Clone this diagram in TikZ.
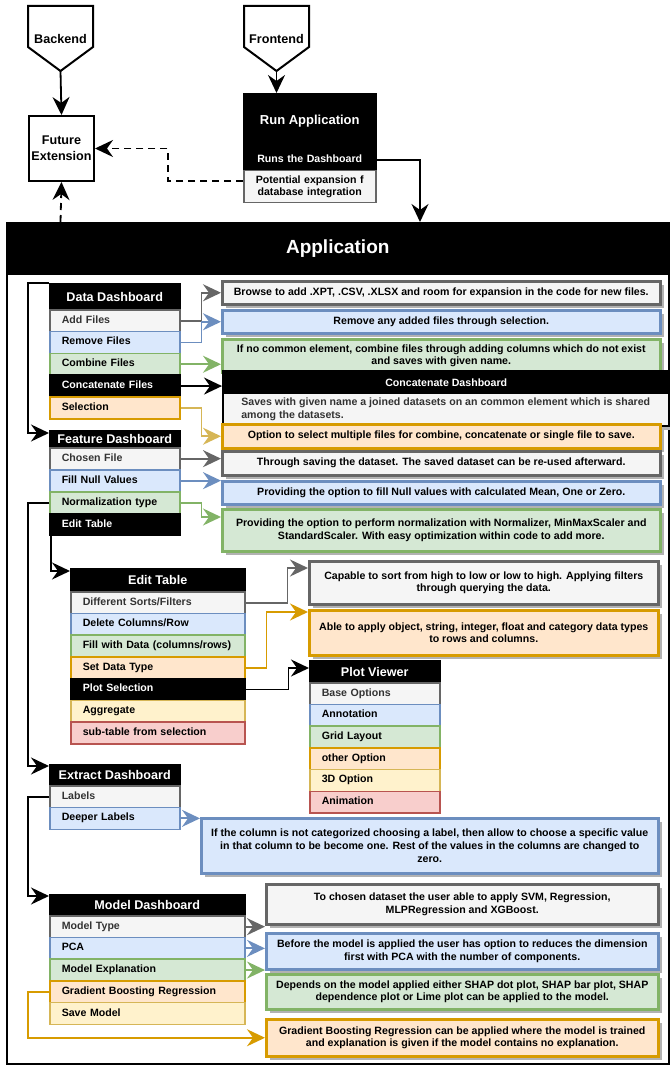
\documentclass[tikz,border=0pt]{standalone}
\usepackage{fontspec}
\setmainfont{Liberation Sans}
\usetikzlibrary{calc}
\usetikzlibrary{arrows.meta}
\usetikzlibrary{shadows}

\definecolor{grayF}{HTML}{F5F5F5}\definecolor{grayD}{HTML}{666666}
\definecolor{blueF}{HTML}{DAE8FC}\definecolor{blueD}{HTML}{6C8EBF}
\definecolor{greenF}{HTML}{D5E8D4}\definecolor{greenD}{HTML}{82B366}
\definecolor{orangeF}{HTML}{FFE6CC}\definecolor{orangeD}{HTML}{D79B00}
\definecolor{yellowF}{HTML}{FFF2CC}\definecolor{yellowD}{HTML}{D6B656}
\definecolor{redF}{HTML}{F8CECC}\definecolor{redD}{HTML}{B85450}
\definecolor{txtgray}{HTML}{333333}

\newcommand\rowfont{\fontsize{10.6}{12.7}\selectfont\bfseries}
\newcommand\headfont{\fontsize{12.6}{14.5}\selectfont\bfseries}

\tikzset{
  cgray/.style={fill=grayF, draw=grayD, text=txtgray},
  cblue/.style={fill=blueF, draw=blueD},
  cgreen/.style={fill=greenF, draw=greenD},
  corange/.style={fill=orangeF, draw=orangeD},
  cyellow/.style={fill=yellowF, draw=yellowD},
  cred/.style={fill=redF, draw=redD},
  cblack/.style={fill=black, draw=black, text=white},
  panelhead/.style={anchor=north west, fill=black, draw=black, text=white, font=\headfont, inner sep=0pt, line width=1.5pt},
  panelrow/.style={anchor=north west, minimum height=21.8, inner xsep=12pt, inner ysep=0pt, text width=#1, align=left, font=\rowfont, line width=1.5pt},
  descbox/.style={anchor=north west, align=center, inner sep=0pt, font=\rowfont, text=black, line width=2.5pt, drop shadow={shadow xshift=4pt, shadow yshift=-4pt, fill=black!30, opacity=1}},
  conn/.style={line width=1.8pt, -{Stealth[length=18pt, width=17pt, inset=6pt]}},
}

\begin{document}
\begin{tikzpicture}[x=1pt, y=-1pt]
\useasboundingbox (0,0) rectangle (669,1067);

% off-page shapes
\draw[line width=2pt, line join=miter] (28,6) -- (93,6) -- (93,47) -- (60.5,71) -- (28,47) -- cycle;
\node[font=\headfont] (backend) at (60.5,39) {Backend};
\coordinate (backendTip) at (60.5,71);
\draw[line width=2pt, line join=miter] (244,6) -- (309,6) -- (309,47) -- (276.5,71) -- (244,47) -- cycle;
\node[font=\headfont] (frontend) at (276.5,39) {Frontend};
\coordinate (frontendTip) at (276.5,71);

\node[draw, line width=2pt, anchor=north west, minimum width=65, minimum height=65, align=center, font=\fontsize{12.6}{16}\selectfont\bfseries, inner sep=0pt] (future) at (28,115) {Future\\Extension};

\node[panelhead, minimum width=132, minimum height=55, font=\fontsize{13}{15}\selectfont\bfseries] (runH) at (243,93) {Run Application};
\node[panelrow=108, cblack, align=center, minimum height=22] (runRow1) at (243,148) {\strut Runs the Dashboard};
\node[panelrow=108, cgray, align=center, minimum height=32, text=black] (runRow2) at (243,170) {Potential expansion f\\database integration};

\node[draw, line width=2pt, anchor=north west, minimum width=662, minimum height=841, inner sep=0pt] (app) at (6,222) {};
\node[panelhead, minimum width=662, minimum height=51, font=\fontsize{19}{22}\selectfont\bfseries] (appH) at (6,222) {Application};

% data dashboard
\node[panelhead, minimum width=130, minimum height=26] (ddH) at (49,283) {Data Dashboard};
\foreach \txt/\sty [count=\i] in {Add Files/cgray, Remove Files/cblue, Combine Files/cgreen, Concatenate Files/cblack, Selection/corange}
  \node[panelrow=106, \sty] (dd\i) at (49,{287.2+21.8*\i}) {\strut\txt};

\node[cgray, descbox, minimum width=438, minimum height=23] (dBrowse) at (221,280) {Browse to add .XPT, .CSV, .XLSX and room for expansion in the code for new files.};
\node[cblue, descbox, minimum width=438, minimum height=23] (dRemove) at (221,309) {Remove any added files through selection.};
\node[cgreen, descbox, minimum width=438, minimum height=33] (dCombine) at (221,338) {If no common element, combine files through adding columns which do not exist\\and saves with given name.};
\node[cblack, descbox, text=white, minimum width=446, minimum height=22] (dConcatH) at (222,370) {Concatenate Dashboard};
\node[cgray, descbox, draw=black, line width=1.5pt, text=txtgray, align=left, minimum width=446, minimum height=33] (dConcatB) at (222,392) {Saves with given name a joined datasets on an common element which is shared\\among the datasets.};
\node[corange, descbox, minimum width=438, minimum height=24] (dSelect) at (221,423) {Option to select multiple files for combine, concatenate or single file to save.};

% feature dashboard
\node[panelhead, minimum width=130, minimum height=16] (fdH) at (49,430) {Feature Dashboard};
\foreach \txt/\sty [count=\i] in {Chosen File/cgray, Fill Null Values/cblue, Normalization type/cgreen, Edit Table/cblack}
  \node[panelrow=106, \sty] (fd\i) at (49,{425+22*\i}) {\strut\txt};

\node[cgray, descbox, minimum width=438, minimum height=24] (dSave) at (221,450) {Through saving the dataset. The saved dataset can be re-used afterward.};
\node[cblue, descbox, minimum width=438, minimum height=23] (dFill) at (221,480) {Providing the option to fill Null values with calculated Mean, One or Zero.};
\node[cgreen, descbox, minimum width=438, minimum height=42] (dNorm) at (221,508) {Providing the option to perform normalization with Normalizer, MinMaxScaler and\\StandardScaler. With easy optimization within code to add more.};

% edit table
\node[panelhead, minimum width=174, minimum height=23] (etH) at (70,568) {Edit Table};
\foreach \txt/\sty [count=\i] in {{Different Sorts/Filters}/cgray, {Delete Columns/Row}/cblue, {Fill with Data (columns/rows)}/cgreen, Set Data Type/corange, Plot Selection/cblack, Aggregate/cyellow, sub-table from selection/cred}
  \node[panelrow=150, \sty] (et\i) at (70,{569.3+21.7*\i}) {\strut\txt};

\node[cgray, descbox, minimum width=349, minimum height=43] (dSort) at (308,560) {Capable to sort from high to low or low to high. Applying filters\\through querying the data.};
\node[corange, descbox, minimum width=349, minimum height=45] (dType) at (308,609) {Able to apply object, string, integer, float and category data types\\to rows and columns.};

% plot viewer
\node[panelhead, minimum width=130, minimum height=22] (pvH) at (309,660) {Plot Viewer};
\foreach \txt/\sty [count=\i] in {Base Options/cgray, Annotation/cblue, Grid Layout/cgreen, other Option/corange, 3D Option/cyellow, Animation/cred}
  \node[panelrow=106, \sty] (pv\i) at (309,{660.3+21.7*\i}) {\strut\txt};

% extract dashboard
\node[panelhead, minimum width=130, minimum height=21] (exH) at (49,764) {Extract Dashboard};
\foreach \txt/\sty [count=\i] in {Labels/cgray, Deeper Labels/cblue}
  \node[panelrow=106, \sty] (ex\i) at (49,{763.3+21.7*\i}) {\strut\txt};

\node[cblue, descbox, minimum width=457, minimum height=55] (dDeep) at (200,817) {If the column is not categorized choosing a label, then allow to choose a specific value\\in that column to be become one. Rest of the values in the columns are changed to\\zero.};

% model dashboard
\node[panelhead, minimum width=195, minimum height=21] (mdH) at (49,894) {Model Dashboard};
\foreach \txt/\sty [count=\i] in {Model Type/cgray, PCA/cblue, Model Explanation/cgreen, Gradient Boosting Regression/corange, Save Model/cyellow}
  \node[panelrow=171, \sty] (md\i) at (49,{893.3+21.7*\i}) {\strut\txt};

\node[cgray, descbox, minimum width=392, minimum height=40] (dChosen) at (265,883) {To chosen dataset the user able to apply SVM, Regression,\\MLPRegression and XGBoost.};
\node[cblue, descbox, minimum width=392, minimum height=36] (dPCA) at (265,932) {Before the model is applied the user has option to reduces the dimension\\first with PCA with the number of components.};
\node[cgreen, descbox, minimum width=392, minimum height=35] (dDepends) at (265,973) {Depends on the model applied either SHAP dot plot, SHAP bar plot, SHAP\\dependence plot or Lime plot can be applied to the model.};
\node[corange, descbox, minimum width=392, minimum height=37] (dGBR) at (265,1018) {Gradient Boosting Regression can be applied where the model is trained\\and explanation is given if the model contains no explanation.};

% connectors
\draw[conn] (backendTip) -- (future.north);
\draw[conn] (frontendTip) -- (frontendTip |- runH.north);
\draw[conn] (runRow1.east) -| ($(appH.north west)+(414,0)$);
\draw[conn, dash pattern=on 7pt off 5pt] ($(runRow2.west)+(0,-6)$) -- ++(-75,0) |- (future.east);
\draw[conn, dash pattern=on 7pt off 5pt] ($(appH.north west)+(54.5,0)$) -- (future.south);

\draw[conn, grayD] (dd1.east) -- ++(21,0) |- (dBrowse.west);
\draw[conn, blueD] (dd2.east) -- ++(21,0) |- (dRemove.west);
\draw[conn, greenD] (dd3.east) -- (dd3.east -| dCombine.west);
\draw[conn] (dd4.east) -- (dd4.east -| dConcatH.west);
\draw[conn, yellowD] (dd5.east) -- ++(21,0) |- (dSelect.west);
\draw[conn] (ddH.north west) -- ++(-21,0) |- ($(fdH.north west)+(0,3)$);

\draw[conn, grayD] (fd1.east) -- (fd1.east -| dSave.west);
\draw[conn, blueD] (fd2.east) -- (fd2.east -| dFill.west);
\draw[conn, greenD] (fd3.east) -- ++(21,0) |- ($(dNorm.north west)+(0,9)$);
\draw[conn] ($(fd4.south west)+(2,0)$) |- ($(etH.north west)+(0,3)$);
\draw[conn] (fd3.west) -- ++(-21,0) |- ($(exH.north west)+(0,2)$);

\draw[conn, grayD] (et1.east) -- ++(42,0) |- ($(dSort.north west)+(0,8)$);
\draw[conn, orangeD] (et4.east) -- ++(21,0) |- ($(dType.north west)+(0,3)$);
\draw[conn] (et5.east) -- ++(43,0) |- ($(pvH.north west)+(0,8)$);

\draw[conn, blueD] (ex2.east) -- (ex2.east -| dDeep.west);
\draw[conn] (ex1.west) -- ++(-21,0) |- ($(mdH.north west)+(0,2)$);

\draw[conn, grayD] (md1.east) -- (md1.east -| dChosen.west);
\draw[conn, blueD] (md2.east) -- (md2.east -| dPCA.west);
\draw[conn, greenD] (md3.east) -- (md3.east -| dDepends.west);
\draw[conn, orangeD] (md4.west) -- ++(-21,0) |- (dGBR.west);
\end{tikzpicture}
\end{document}
